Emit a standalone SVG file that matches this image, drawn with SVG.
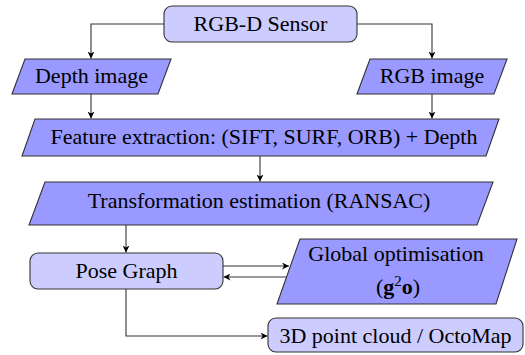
<svg xmlns="http://www.w3.org/2000/svg" width="525" height="355" viewBox="0 0 525 355">
<defs>
<style>
.rb{fill:#ccccff;stroke:#333;stroke-width:1.1}
.pg{fill:#9999ff;stroke:#333;stroke-width:1.1}
.t{font-family:'Liberation Serif','DejaVu Serif',serif;font-size:22px;fill:#000;text-anchor:middle}
.c{fill:none;stroke:#333;stroke-width:1.1}
</style>
<marker id="ah" viewBox="0 0 10 10" refX="10" refY="5" markerWidth="7" markerHeight="7" markerUnits="userSpaceOnUse" orient="auto">
<path d="M0,0 L10,5 L0,10 L3,5 Z" fill="#000"/>
</marker>
</defs>
<g id="connectors">
<path class="c" d="M164,24 H91 V58.5" marker-end="url(#ah)"/>
<path class="c" d="M357,24 H432 V58.5" marker-end="url(#ah)"/>
<path class="c" d="M91,94 V118.5" marker-end="url(#ah)"/>
<path class="c" d="M432,94 V118.5" marker-end="url(#ah)"/>
<path class="c" d="M260,156 V181.5" marker-end="url(#ah)"/>
<path class="c" d="M126,225 V252.5" marker-end="url(#ah)"/>
<path class="c" d="M223,266 H289" marker-end="url(#ah)"/>
<path class="c" d="M286,277 H223.5" marker-end="url(#ah)"/>
<path class="c" d="M126,289 V336 H267.5" marker-end="url(#ah)"/>
</g>
<g id="sensor">
<rect class="rb" x="164" y="6" width="193" height="36" rx="8"/>
<text class="t" x="260.5" y="31" font-family="Liberation Serif, serif">RGB-D Sensor</text>
</g>
<g id="depth">
<polygon class="pg" points="25,59 171,59 158,94 12,94"/>
<text class="t" x="91.5" y="83">Depth image</text>
</g>
<g id="rgb">
<polygon class="pg" points="370,59 507,59 494,94 357,94"/>
<text class="t" x="432" y="83">RGB image</text>
</g>
<g id="feature">
<polygon class="pg" points="35,119 499,119 486,156 22,156"/>
<text class="t" x="264" y="144">Feature extraction: (SIFT, SURF, ORB) + Depth</text>
</g>
<g id="transformation">
<polygon class="pg" points="45,182 493,182 477,225 29,225"/>
<text class="t" x="259" y="208">Transformation estimation (RANSAC)</text>
</g>
<g id="posegraph">
<rect class="rb" x="30" y="253" width="193" height="36" rx="8"/>
<text class="t" x="126.5" y="278">Pose Graph</text>
</g>
<g id="global">
<polygon class="pg" points="300,239 517,239 496,304 277,304"/>
<text class="t" x="396" y="261">Global optimisation</text>
<text class="t" x="398" y="294">(<tspan font-weight="bold">g</tspan><tspan font-size="15" dy="-8">2</tspan><tspan font-weight="bold" dy="8">o</tspan>)</text>
</g>
<g id="pointcloud">
<rect class="rb" x="268" y="318" width="255" height="34" rx="8"/>
<text class="t" x="395.5" y="343">3D point cloud / OctoMap</text>
</g>
</svg>
